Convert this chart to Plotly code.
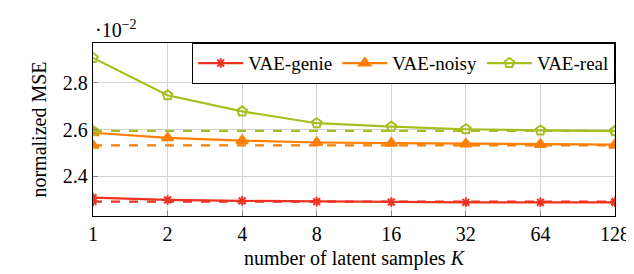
import plotly.graph_objects as go

K = [1, 2, 4, 8, 16, 32, 64, 128]
genie = [2.307, 2.297, 2.293, 2.290, 2.288, 2.287, 2.287, 2.287]
noisy = [2.586, 2.564, 2.552, 2.544, 2.541, 2.538, 2.536, 2.535]
real = [2.908, 2.747, 2.678, 2.627, 2.612, 2.601, 2.596, 2.593]
genie_ref = 2.290
noisy_ref = 2.532
real_ref = 2.594
x_ticks = [1, 2, 4, 8, 16, 32, 64, 128]
y_ticks = [2.4, 2.6, 2.8]

RED = "#EE3320"
ORANGE = "#FF7F00"
LIME = "#A8BE1E"

FAM = "'Liberation Serif', 'Times New Roman', Times, serif"

fig = go.Figure()


def add_series(name, y, ref, color, symbol, msize):
    fig.add_trace(go.Scatter(
        x=[K[0], K[-1]], y=[ref, ref], mode="lines+markers",
        line=dict(color=color, width=2.2, dash="dash"),
        marker=dict(symbol=symbol, size=msize, color=color,
                    line=dict(color=color, width=2)),
        showlegend=False, hoverinfo="skip"))
    fig.add_trace(go.Scatter(
        x=K, y=y, mode="lines+markers", name=name,
        line=dict(color=color, width=2.2),
        marker=dict(symbol=symbol, size=msize, color=color,
                    line=dict(color=color, width=2))))


add_series("VAE-genie", genie, genie_ref, RED, "asterisk-open", 8)
add_series("VAE-noisy", noisy, noisy_ref, ORANGE, "triangle-up", 10)
add_series("VAE-real", real, real_ref, LIME, "pentagon-open", 10)

fig.update_layout(
    width=634, height=274,
    margin=dict(l=85, r=17, t=35, b=66),
    paper_bgcolor="white", plot_bgcolor="white",
    font=dict(family=FAM, size=18, color="black"),
    legend=dict(orientation="h", x=1, xanchor="right", y=1, yanchor="top",
                bordercolor="black", borderwidth=1.2, bgcolor="white",
                font=dict(family=FAM, size=19, color="black"),
                tracegroupgap=0, itemwidth=45),
    xaxis=dict(type="log", range=[0, 2.10721], tickvals=x_ticks,
               ticktext=[str(v) for v in x_ticks],
               showgrid=True, gridcolor="#d3d3d3", gridwidth=1,
               showline=True, linecolor="black", linewidth=1.3, mirror=True,
               ticks="inside", ticklen=5, tickcolor="#888",
               title=dict(text="number of latent samples <i>K</i>",
                          font=dict(family=FAM, size=20, color="black"), standoff=6),
               tickfont=dict(family=FAM, size=20, color="black"), zeroline=False),
    yaxis=dict(range=[2.228, 2.972], tickvals=y_ticks,
               ticktext=["2.4", "2.6", "2.8"],
               showgrid=True, gridcolor="#d3d3d3", gridwidth=1,
               showline=True, linecolor="black", linewidth=1.3, mirror=True,
               ticks="inside", ticklen=5, tickcolor="#888",
               title=dict(text="normalized MSE",
                          font=dict(family=FAM, size=20, color="black"), standoff=10),
               tickfont=dict(family=FAM, size=20, color="black"), zeroline=False),
    annotations=[dict(text="·10<sup>−2</sup>", xref="paper", yref="paper",
                      x=0, y=1, xanchor="left", yanchor="bottom", yshift=0,
                      showarrow=False, font=dict(family=FAM, size=20, color="black"))],
)

fig.write_html("out.html")
